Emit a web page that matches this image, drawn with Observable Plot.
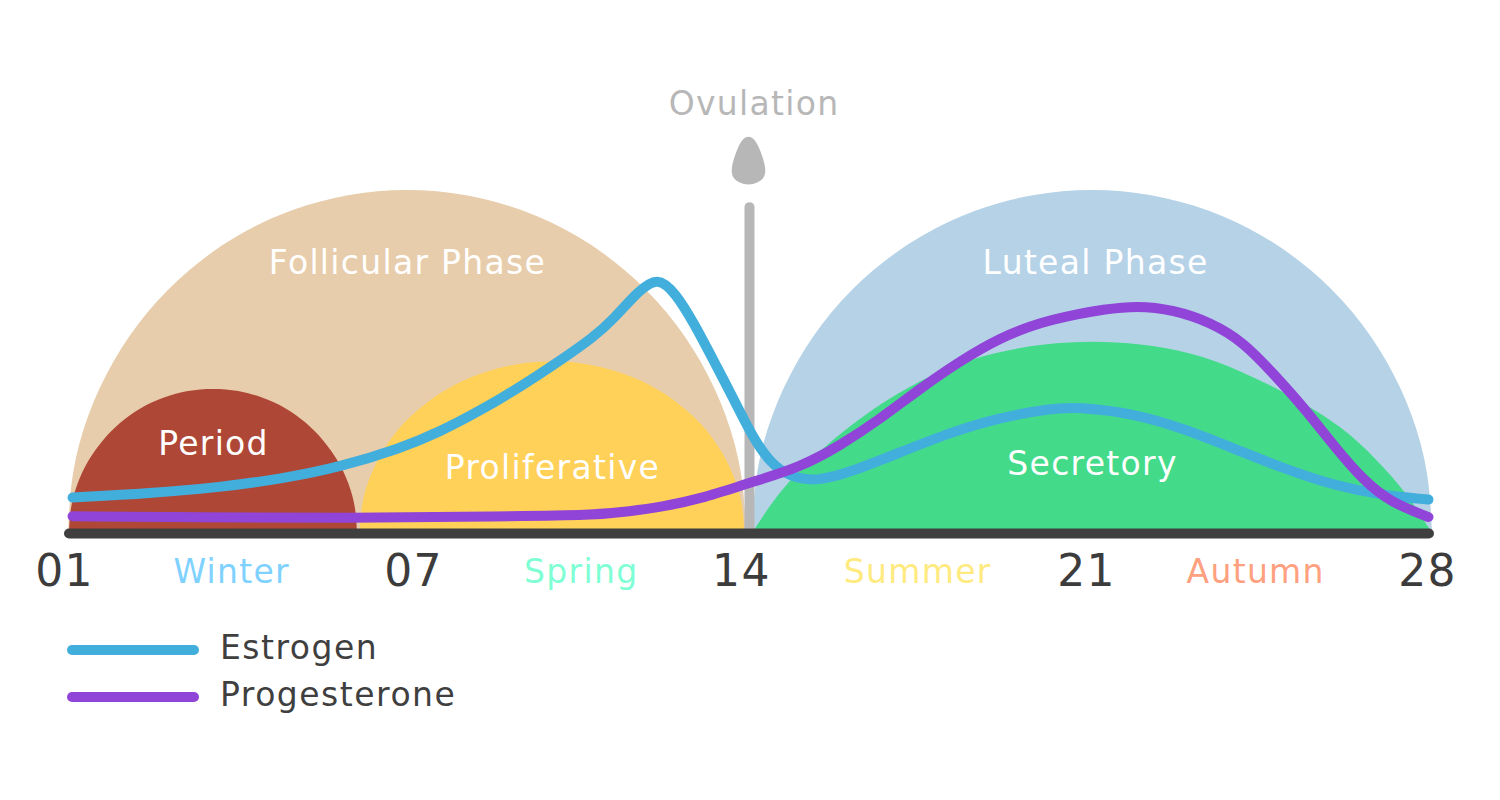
<!DOCTYPE html>
<html>
<head>
<meta charset="utf-8">
<script src="https://cdn.jsdelivr.net/npm/d3@7"></script>
<script src="https://cdn.jsdelivr.net/npm/@observablehq/plot@0.6"></script>
<style>
  html, body { margin: 0; padding: 0; background: #fff; }
  #chart svg text { letter-spacing: 1.3px; }
  #legend { position: relative; height: 190px; font-family: "DejaVu Sans", sans-serif; }
  .row { position: absolute; left: 67px; height: 10px; display: flex; align-items: center; }
  .swatch { width: 132px; height: 10px; border-radius: 5px; margin-right: 21px; }
  .name { font-size: 33px; color: #3F3F3F; letter-spacing: 1.5px; position: relative; top: -3px; }
</style>
</head>
<body>
<div id="chart"></div>
<div id="legend"></div>
<script>
const domeLevel = [0,17.4,34.2,50,64.3,76.6,86.6,94,98.5,100,98.5,94,86.6,76.6,64.3,50,34.2,17.4,0];
const follicularDay = [1,1.1,1.4,1.9,2.57,3.4,4.35,5.42,6.54,7.71,8.88,10,11.07,12.02,12.85,13.52,14.02,14.32,14.42];
const lutealDay = [14.54,14.64,14.94,15.44,16.11,16.94,17.9,18.97,20.1,21.27,22.44,23.57,24.64,25.6,26.43,27.1,27.6,27.9,28];
const periodDay = [1.02,1.06,1.19,1.4,1.69,2.04,2.44,2.9,3.37,3.87,4.37,4.84,5.3,5.7,6.05,6.34,6.55,6.68,6.72];
const periodLevel = [0,7.3,14.4,21,27,32.2,36.4,39.5,41.4,42,41.4,39.5,36.4,32.2,27,21,14.4,7.3,0];
const proliferativeDay = [6.77,6.83,7,7.28,7.66,8.13,8.67,9.28,9.92,10.58,11.24,11.88,12.49,13.03,13.5,13.88,14.16,14.33,14.39];
const proliferativeLevel = [0,8.7,17.1,25,32.2,38.3,43.3,47,49.3,50,49.3,47,43.3,38.3,32.2,25,17.1,8.7,0];
const secretoryDay = [14.54,15.09,15.75,16.54,17.41,18.36,19.35,20.34,21.27,22.22,23.21,24.2,25.23,26.24,26.91,27.5,28];
const secretoryLevel = [0,12.5,22.2,32.1,40.8,48.1,52.8,55.2,56,55.2,52.8,47.5,39.9,30.9,21.3,11.7,0];

const estrogenDay = [1.08,2.62,4.01,5.2,6.38,7.57,8.36,9.16,9.95,10.74,11.39,11.79,12.26,12.66,13.02,13.37,13.77,14.16,14.54,14.9,15.29,15.83,16.48,17.47,18.46,19.45,20.44,20.97,22.08,23.07,24.06,25.05,26.04,27.03,27.92];
const estrogenLevel = [10.5,11.7,13.5,15.9,19.4,24.8,29.7,35.9,42.8,50.5,57.2,62.5,70.4,75,70,61.6,50.4,39.4,28.1,20.4,16.4,15.2,17.9,23.7,29.5,33.9,36.4,36.9,35,30.6,24.8,19,14,11.1,9.9];
const progesteroneDay = [1.08,3.61,6.58,9.55,11.39,12.12,12.72,13.51,14.44,15.49,16.28,17.07,17.86,18.66,19.45,20.24,21.03,21.43,22.16,22.87,23.61,24.26,24.85,25.45,26.04,26.63,27.17,27.92];
const progesteroneLevel = [5,4.7,4.5,5,5.3,6.5,7.7,10.1,14.6,19.3,25.7,33.4,42.3,50.4,57.2,61.6,64.1,65.2,66.5,65.2,61.6,55.8,46.6,36.8,25.7,15.5,9.1,4.8];

const dropDay = [14.46,14.58,14.66,14.73,14.78,14.8,14.77,14.64,14.46,14.28,14.15,14.12,14.14,14.19,14.26,14.34];
const dropLevel = [116,115,112.8,110.2,107.8,105.6,103.6,102.2,101.5,102.2,103.6,105.6,107.8,110.2,112.8,115];

const tickDays = [0.92,7.83,14.32,21.15,27.9];
const tickLabels = ["01","07","14","21","28"];
const seasonNames = ["Winter","Spring","Summer","Autumn"];
const seasonDays = [4.23,11.15,17.81,24.5];
const seasonColors = ["#7FD2FF","#7FFFD4","#FFEA7F","#FFA07F"];
const phaseNames = ["Follicular Phase","Luteal Phase","Period","Proliferative","Secretory"];
const phaseDays = [7.71,21.33,3.87,10.58,21.27];
const phaseLevels = [78.7,78.7,25.9,18.9,20.1];
const legendNames = ["Estrogen","Progesterone"];
const legendColors = ["#42AEDC","#9044D8"];

const dome = (xs, ys, fill, curve = "natural") => Plot.areaY(xs, {x: xs, y1: 0, y2: ys, fill, curve});
const hormone = (xs, ys, stroke) => Plot.line(xs, {x: xs, y: ys, stroke, strokeWidth: 10, strokeLinecap: "round", strokeLinejoin: "round", curve: "basis"});

const plot = Plot.plot({
  width: 1500, height: 610,
  marginTop: 190, marginBottom: 77, marginLeft: 68, marginRight: 68,
  style: {fontFamily: '"DejaVu Sans", sans-serif', background: "transparent", overflow: "visible"},
  x: {domain: [1, 28]},
  y: {domain: [0, 100], axis: null},
  marks: [
    dome(follicularDay, domeLevel, "#E7CDAB"),
    dome(lutealDay, domeLevel, "#B5D2E7"),
    dome(periodDay, periodLevel, "#AF4737"),
    dome(proliferativeDay, proliferativeLevel, "#FFD158"),
    dome(secretoryDay, secretoryLevel, "#43DB8A", "basis"),
    Plot.ruleX([14.48], {y1: 0, y2: 95, stroke: "#B7B7B7", strokeWidth: 10, strokeLinecap: "round"}),
    Plot.line(dropDay, {x: dropDay, y: dropLevel, fill: "#B7B7B7", stroke: "none", curve: "basis-closed"}),
    Plot.text(["Ovulation"], {x: [14.57], y: [125.2], text: d => d, fill: "#B7B7B7", fontSize: 33}),
    Plot.text(phaseNames, {x: phaseDays, y: phaseLevels, text: d => d, fill: "white", fontSize: 33}),
    hormone(estrogenDay, estrogenLevel, "#42AEDC"),
    hormone(progesteroneDay, progesteroneLevel, "#9044D8"),
    Plot.ruleY([0], {x1: 1.02, x2: 27.94, stroke: "#3F3F3F", strokeWidth: 10, strokeLinecap: "round"}),
    Plot.axisX(tickDays, {tickSize: 0, tickPadding: 21, fontSize: 44, fill: "#3C3C3C", label: null, tickFormat: d => tickLabels[tickDays.indexOf(d)]}),
    Plot.text(seasonNames, {x: seasonDays, y: seasonDays.map(() => -11.4), text: d => d, fill: seasonColors, fontSize: 33})
  ]
});
document.getElementById("chart").appendChild(plot);

const legend = document.getElementById("legend");
legendNames.forEach((name, i) => {
  const row = document.createElement("div");
  row.className = "row";
  row.style.top = (35 + i * 47) + "px";
  row.innerHTML = `<div class="swatch" style="background:${legendColors[i]}"></div><div class="name">${name}</div>`;
  legend.appendChild(row);
});
</script>
</body>
</html>
